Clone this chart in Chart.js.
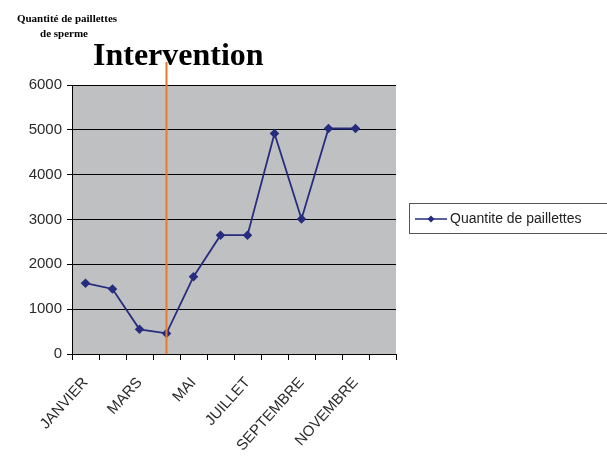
<!DOCTYPE html>
<html>
<head>
<meta charset="utf-8">
<script src="https://cdn.jsdelivr.net/npm/chart.js@4"></script>
<style>
  body { margin: 0; background: #fff; }
</style>
</head>
<body>
<canvas id="chart-area" width="607" height="460"></canvas>
<script>
var mois = ["JANVIER", "FEVRIER", "MARS", "AVRIL", "MAI", "JUIN",
            "JUILLET", "AOUT", "SEPTEMBRE", "OCTOBRE", "NOVEMBRE", "DECEMBRE"];
var paillettes = [1580, 1450, 550, 460, 1725, 2650, 2650, 4920, 3010, 5030, 5030, null];
var yTicks = [0, 1000, 2000, 3000, 4000, 5000, 6000];
var serieNom = "Quantite de paillettes";
var titreY = ["Quantité de paillettes", "de sperme"];
var titre = "Intervention";
var moisIntervention = 3; // AVRIL

var lineColor = '#262C7E';

// Excel-like decorations: grey plot area, titles, orange marker, legend
var deco = {
    id: 'deco',
    beforeDraw: function(chart) {
        var a = chart.chartArea, c = chart.ctx;
        c.save();
        c.fillStyle = '#BFC0C2';
        c.fillRect(a.left, a.top, a.right - a.left, a.bottom - a.top);
        c.restore();
    },
    afterDraw: function(chart) {
        var c = chart.ctx, a = chart.chartArea;
        var x = chart.scales.x.getPixelForValue(moisIntervention);
        c.save();

        // intervention line
        c.strokeStyle = '#E9782F';
        c.lineWidth = 2;
        c.beginPath();
        c.moveTo(x, 62);
        c.lineTo(x, a.bottom);
        c.stroke();

        // titles
        c.fillStyle = '#000';
        c.textBaseline = 'alphabetic';
        c.font = 'bold 32px "Liberation Serif"';
        c.textAlign = 'left';
        c.fillText(titre, 93, 65);
        c.font = 'bold 11px "Liberation Serif"';
        c.textAlign = 'center';
        c.fillText(titreY[0], 67, 22);
        c.fillText(titreY[1], 64, 37);

        // legend
        c.strokeStyle = '#555';
        c.lineWidth = 1;
        c.strokeRect(409.5, 203.5, 200, 30);
        c.strokeStyle = lineColor;
        c.lineWidth = 1.5;
        c.beginPath();
        c.moveTo(415, 219);
        c.lineTo(447, 219);
        c.stroke();
        c.fillStyle = lineColor;
        c.beginPath();
        c.moveTo(431, 215.5);
        c.lineTo(434.5, 219);
        c.lineTo(431, 222.5);
        c.lineTo(427.5, 219);
        c.closePath();
        c.fill();
        c.fillStyle = '#222';
        c.font = '14px "Liberation Sans"';
        c.textAlign = 'left';
        c.textBaseline = 'middle';
        c.fillText(serieNom, 450, 219);
        c.restore();
    }
};

window.onload = function() {
    var ctx = document.getElementById("chart-area").getContext("2d");

    var config = {
        type: 'line',
        data: {
            labels: mois,
            datasets: [{
                label: serieNom,
                data: paillettes,
                borderColor: lineColor,
                backgroundColor: lineColor,
                borderWidth: 1.8,
                pointStyle: 'rectRot',
                pointRadius: 3.5,
                pointHoverRadius: 3.5,
                tension: 0,
                fill: false
            }]
        },
        options: {
            responsive: false,
            animation: false,
            layout: { padding: { left: 0, top: 85, right: 211, bottom: 0 } },
            plugins: {
                legend: { display: false },
                title: { display: false },
                tooltip: { enabled: false }
            },
            scales: {
                x: {
                    offset: true,
                    afterFit: function(scale) { scale.height = 106; },
                    grid: {
                        offset: true,
                        drawOnChartArea: false,
                        drawTicks: true,
                        tickLength: 6,
                        color: '#000'
                    },
                    border: { color: '#000', width: 1 },
                    ticks: {
                        autoSkip: false,
                        minRotation: 48,
                        maxRotation: 48,
                        padding: 14,
                        color: '#2a2a2a',
                        font: { family: '"Liberation Sans"', size: 15 },
                        callback: function(v, i) { return i % 2 === 0 ? mois[i] : ''; }
                    }
                },
                y: {
                    min: yTicks[0],
                    max: yTicks[yTicks.length - 1],
                    afterFit: function(scale) { scale.width = 72; },
                    afterBuildTicks: function(scale) {
                        scale.ticks = yTicks.map(function(v) { return { value: v }; });
                    },
                    grid: {
                        color: '#000',
                        lineWidth: 1,
                        drawTicks: true,
                        tickLength: 5
                    },
                    border: { color: '#000', width: 1 },
                    ticks: {
                        padding: 5,
                        color: '#2a2a2a',
                        font: { family: '"Liberation Sans"', size: 15 },
                        callback: function(v) { return String(v); }
                    }
                }
            }
        },
        plugins: [deco]
    };

    window.myLine = new Chart(ctx, config);
};
</script>
</body>
</html>
